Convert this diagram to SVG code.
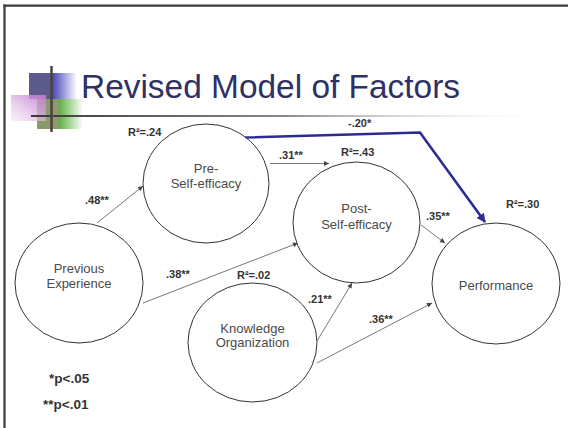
<svg xmlns="http://www.w3.org/2000/svg" width="568" height="428" viewBox="0 0 568 428">
  <defs>
    <style>
      .node ellipse { fill: #ffffff; stroke: #333333; stroke-width: 1; }
      .node text { font-family: "Liberation Sans", Arial, sans-serif; font-size: 13px; fill: #4a4a4a; text-anchor: middle; }
      .lbl { font-family: "Liberation Sans", Arial, sans-serif; font-size: 11px; font-weight: bold; fill: #333333; }
      .note { font-family: "Liberation Sans", Arial, sans-serif; font-size: 13.5px; font-weight: bold; fill: #333333; }
      .edge { fill: none; stroke: #555555; stroke-width: 0.8; marker-end: url(#arr); }
      .strong { fill: none; stroke: #2b2b96; stroke-width: 2.6; stroke-linejoin: miter; marker-end: url(#arrBlue); }
    </style>
    <marker id="arr" viewBox="0 0 10 10" refX="10" refY="5" markerWidth="6" markerHeight="5" markerUnits="userSpaceOnUse" orient="auto">
      <path d="M0,0 L10,5 L0,10 z" fill="#444444"/>
    </marker>
    <marker id="arrBlue" viewBox="0 0 10 10" refX="9" refY="5" markerWidth="10" markerHeight="9" markerUnits="userSpaceOnUse" orient="auto">
      <path d="M0,0 L10,5 L0,10 z" fill="#2b2b96"/>
    </marker>
    <linearGradient id="gBlue" x1="0" y1="0" x2="1" y2="0">
      <stop offset="0" stop-color="#4a4ac0"/>
      <stop offset="1" stop-color="#4a4ac0" stop-opacity="0"/>
    </linearGradient>
    <linearGradient id="gGreen" x1="0" y1="0" x2="1" y2="0">
      <stop offset="0" stop-color="#5cb040"/>
      <stop offset="1" stop-color="#5cb040" stop-opacity="0"/>
    </linearGradient>
    <linearGradient id="gPink" x1="1" y1="0" x2="0" y2="1">
      <stop offset="0" stop-color="#c078cc"/>
      <stop offset="1" stop-color="#f4e6f4" stop-opacity="0.6"/>
    </linearGradient>
    <linearGradient id="gRule" x1="31" y1="0" x2="540" y2="0" gradientUnits="userSpaceOnUse">
      <stop offset="0" stop-color="#3a3a3a"/>
      <stop offset="0.5" stop-color="#8a8a8a"/>
      <stop offset="1" stop-color="#eeeeee" stop-opacity="0"/>
    </linearGradient>
  </defs>

  <rect width="568" height="428" fill="#ffffff"/>

  <!-- slide frame -->
  <g id="frame" stroke="#3a3a3a" stroke-width="2.2" fill="none">
    <line x1="3.4" y1="5.6" x2="568" y2="5.6"/>
    <line x1="4.5" y1="4.5" x2="4.5" y2="428"/>
  </g>

  <!-- title ornament -->
  <g id="ornament">
    <rect x="29" y="73" width="24" height="26" fill="#5d5a8c"/>
    <rect x="53" y="73" width="24" height="26" fill="url(#gBlue)"/>
    <rect x="37" y="99" width="22" height="30" fill="#8b9a6a"/>
    <rect x="59" y="99" width="24" height="30" fill="url(#gGreen)"/>
    <rect x="11" y="95" width="35" height="26" fill="url(#gPink)" opacity="0.92"/>
    <line x1="31" y1="116" x2="540" y2="116" stroke="url(#gRule)" stroke-width="2"/>
    <line x1="51.5" y1="66" x2="51.5" y2="132" stroke="#4a4242" stroke-width="2.5"/>
  </g>

  <text id="title" x="81" y="98" font-family="'Liberation Sans', Arial, sans-serif" font-size="34" fill="#2e3163" textLength="379" lengthAdjust="spacingAndGlyphs">Revised Model of Factors</text>

  <!-- connectors -->
  <g id="connectors">
    <line class="edge" x1="97" y1="223" x2="143" y2="186"/>
    <line class="edge" x1="270" y1="163.5" x2="329" y2="163.5"/>
    <line class="edge" x1="143" y1="303" x2="298" y2="243"/>
    <line class="edge" x1="317" y1="341" x2="352" y2="283"/>
    <line class="edge" x1="317" y1="363" x2="432" y2="303"/>
    <line class="edge" x1="421" y1="225" x2="445" y2="243"/>
    <polyline class="strong" points="245,137.5 420,132.5 485,222"/>
  </g>

  <!-- path coefficients -->
  <g id="coefficients">
    <text class="lbl" x="85" y="204">.48**</text>
    <text class="lbl" x="279" y="159">.31**</text>
    <text class="lbl" x="166" y="278">.38**</text>
    <text class="lbl" x="308" y="303">.21**</text>
    <text class="lbl" x="369" y="323">.36**</text>
    <text class="lbl" x="426" y="220">.35**</text>
    <text class="lbl" x="348" y="127">-.20*</text>
  </g>

  <!-- variance explained -->
  <g id="r-squared">
    <text class="lbl" x="128" y="136">R²=.24</text>
    <text class="lbl" x="341" y="156">R²=.43</text>
    <text class="lbl" x="506" y="208">R²=.30</text>
    <text class="lbl" x="237" y="279">R²=.02</text>
  </g>

  <!-- nodes -->
  <g id="node-pre" class="node">
    <ellipse cx="206" cy="183.5" rx="63" ry="59.5"/>
    <text x="206" y="173">Pre-</text>
    <text x="206" y="188">Self-efficacy</text>
  </g>
  <g id="node-post" class="node">
    <ellipse cx="356.5" cy="222.5" rx="63.5" ry="60.5"/>
    <text x="356.5" y="213">Post-</text>
    <text x="356.5" y="229">Self-efficacy</text>
  </g>
  <g id="node-performance" class="node">
    <ellipse cx="496" cy="283.5" rx="64" ry="60.5"/>
    <text x="496" y="290">Performance</text>
  </g>
  <g id="node-previous" class="node">
    <ellipse cx="79" cy="283" rx="64" ry="60"/>
    <text x="79" y="273">Previous</text>
    <text x="79" y="288">Experience</text>
  </g>
  <g id="node-knowledge" class="node">
    <ellipse cx="252.5" cy="342.5" rx="64.5" ry="59.5"/>
    <text x="252.5" y="333">Knowledge</text>
    <text x="252.5" y="347">Organization</text>
  </g>

  <!-- significance key -->
  <g id="key">
    <text class="note" x="49" y="383">*p&lt;.05</text>
    <text class="note" x="43" y="409">**p&lt;.01</text>
  </g>
</svg>
